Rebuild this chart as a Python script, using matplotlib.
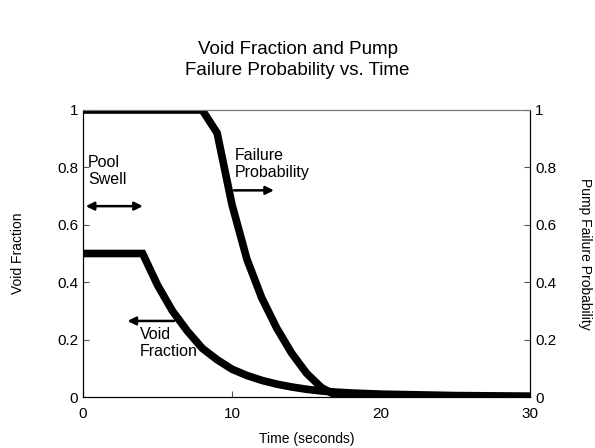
import matplotlib.pyplot as plt

plt.rcParams['font.family'] = ['Liberation Sans', 'DejaVu Sans']

# void fraction vs time
void_t = [0, 4, 5, 6, 7, 8, 9, 10, 11, 12, 13, 14, 15, 16, 17, 18, 20, 22, 25, 30]
void_v = [0.5, 0.5, 0.39, 0.30, 0.23, 0.17, 0.13, 0.097, 0.075, 0.058, 0.045,
          0.035, 0.027, 0.021, 0.017, 0.014, 0.01, 0.008, 0.005, 0.003]

# pump failure probability vs time
fail_t = [0, 8, 9, 10, 11, 12, 13, 14, 15, 16, 17, 20, 30]
fail_p = [1, 1, 0.92, 0.67, 0.48, 0.345, 0.24, 0.153, 0.083, 0.033, 0.005, 0, 0]

fig = plt.figure(figsize=(5.95, 4.48), dpi=100)
ax = fig.add_axes([0.1395, 0.1138, 0.7513, 0.6407])
ax2 = ax.twinx()

ax.plot(void_t, void_v, color='black', lw=5.5, solid_joinstyle='miter')
ax2.plot(fail_t, fail_p, color='black', lw=5.5, solid_joinstyle='miter')

for a in (ax, ax2):
    a.set_xlim(0, 30)
    a.set_ylim(0, 1)
    a.set_yticks([0, 0.2, 0.4, 0.6, 0.8, 1])
    a.set_yticklabels(['0', '0.2', '0.4', '0.6', '0.8', '1'])
    a.tick_params(direction='in', length=4, labelsize=11, color='#555555')
    a.spines['top'].set_color('#777777')
ax.set_xticks([0, 10, 20, 30])
ax.tick_params(axis='x', pad=7)

fig.text(0.5, 0.866, 'Void Fraction and Pump\nFailure Probability vs. Time',
         ha='center', va='center', fontsize=13.5, linespacing=1.35)
ax.set_xlabel('Time (seconds)', fontsize=10, labelpad=8)
ax.set_ylabel('Void Fraction', fontsize=10, labelpad=23)
ax2.set_ylabel('Pump Failure Probability', fontsize=10, rotation=-90, labelpad=26)

# annotations
ax.annotate('', xy=(0, 0.665), xytext=(4.2, 0.665),
            arrowprops=dict(arrowstyle='<|-|>', color='black', lw=1.8, mutation_scale=12))
ax.text(0.35, 0.73, 'Pool\nSwell', fontsize=11.5, va='bottom', linespacing=1.2)

ax.annotate('', xy=(13.0, 0.72), xytext=(9.95, 0.72),
            arrowprops=dict(arrowstyle='-|>', color='black', lw=1.8, mutation_scale=12))
ax.text(10.2, 0.755, 'Failure\nProbability', fontsize=11.5, va='bottom', linespacing=1.2)

ax.annotate('', xy=(2.8, 0.265), xytext=(6.3, 0.265),
            arrowprops=dict(arrowstyle='-|>', color='black', lw=1.8, mutation_scale=12))
ax.text(3.8, 0.245, 'Void\nFraction', fontsize=11.5, va='top', linespacing=1.2)

fig.savefig('out.png', dpi=100)
